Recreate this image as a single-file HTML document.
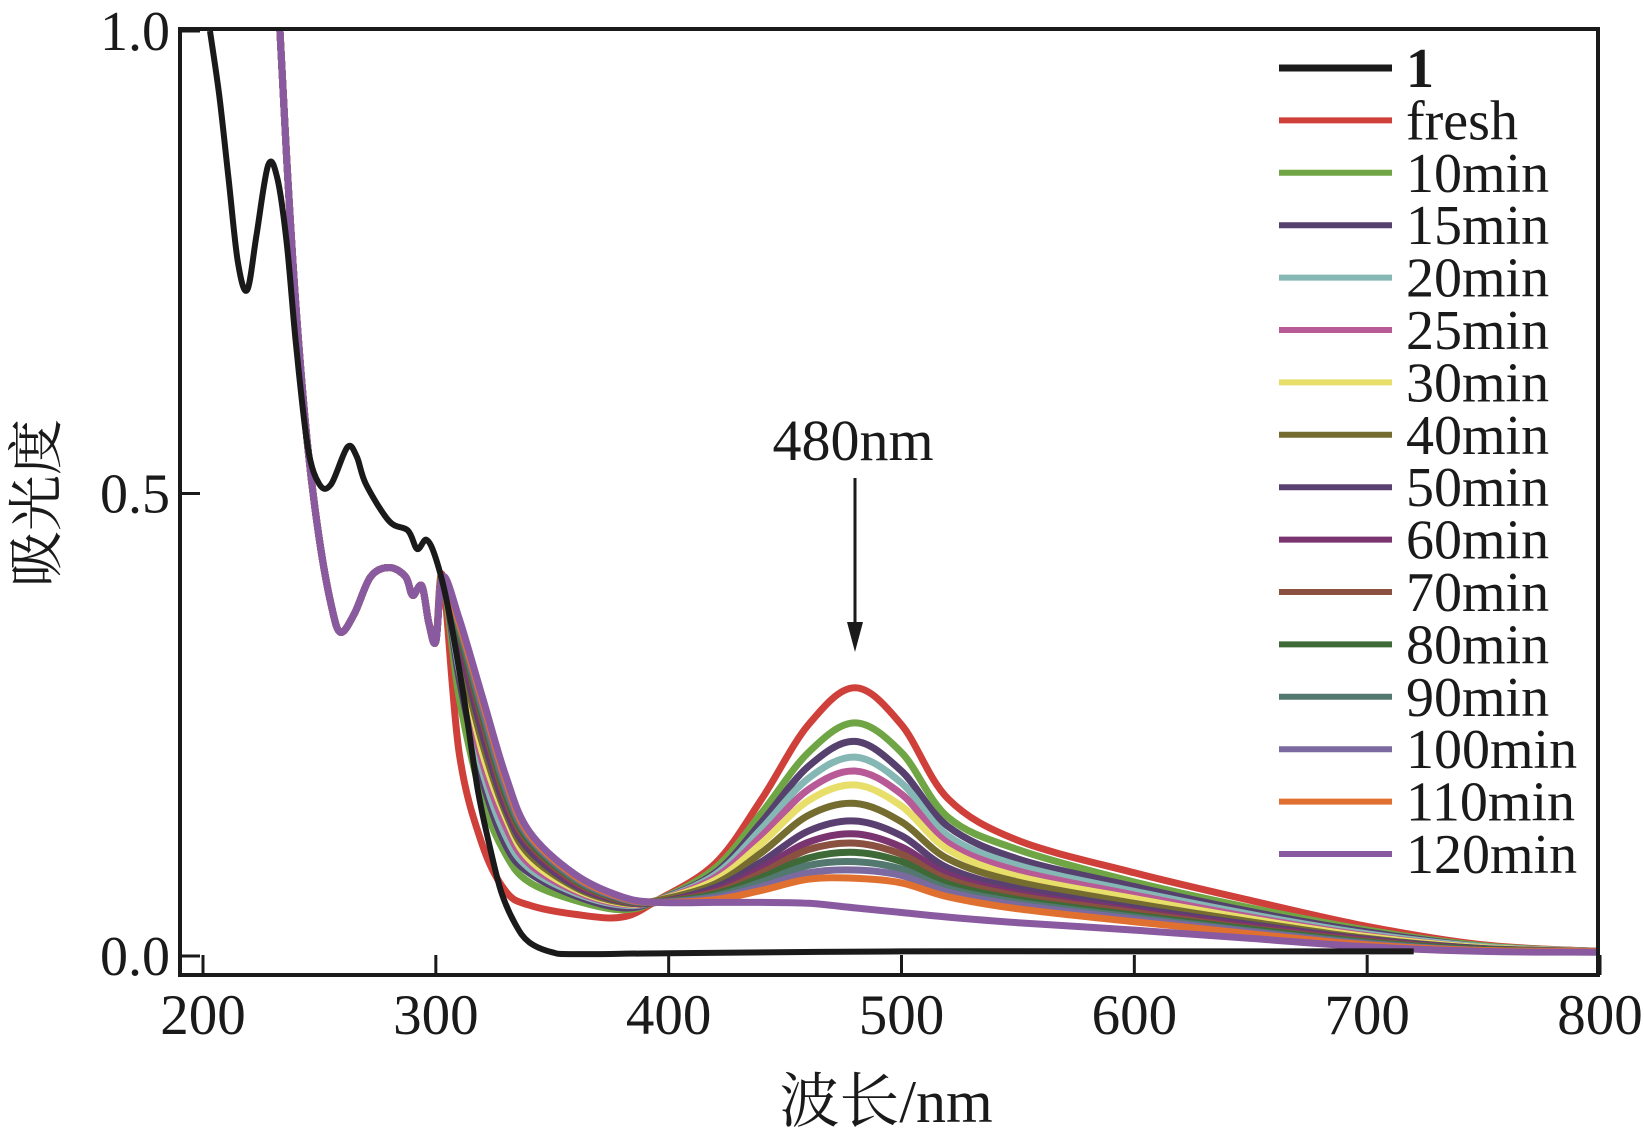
<!DOCTYPE html>
<html><head><meta charset="utf-8"><style>
body{margin:0;background:#fff}
svg text{font-family:"Liberation Serif","Noto Serif CJK SC",serif;fill:#1a1a1a}
</style></head><body>
<svg id="chart" width="1644" height="1140" viewBox="0 0 1644 1140" xmlns="http://www.w3.org/2000/svg">
<defs><clipPath id="clip"><rect x="182" y="31" width="1414" height="942"/></clipPath></defs>
<g id="series" clip-path="url(#clip)"></g>
<rect x="180" y="29" width="1418" height="946" fill="none" stroke="#1a1a1a" stroke-width="4"/>
<g id="axes"></g>
<g id="legend"></g>
<g>
<text x="853" y="460" font-size="58" text-anchor="middle">480nm</text>
<line x1="855" y1="478" x2="855" y2="630" stroke="#1a1a1a" stroke-width="3"/>
<polygon points="847,622 863,622 855,652" fill="#1a1a1a"/>
</g>
<text x="886" y="1122" font-size="60" text-anchor="middle">波长/nm</text>
<text transform="translate(56,503) rotate(-90)" font-size="56" text-anchor="middle">吸光度</text>
</svg>
<script>
const xTicks=[200,300,400,500,600,700,800];
const yTicks=[0.0,0.5,1.0];
const yTickLabels=["0.0","0.5","1.0"];
const seriesNames=["fresh","10min","15min","20min","25min","30min","40min","50min","60min","70min","80min","90min","100min","110min","120min"];
const seriesColors=["#d0403a","#6fa544","#55406e","#85b8b5","#b75a95","#e8df6a","#756c30","#5a4070","#7a3470","#8a5040","#3e6a38","#527870","#7a6aa0","#e07030","#8a5aa0"];
const refWl=[203,207,211,215,219,223,228,232,236,240,245,250,255,262,266,270,280,288,292,296,300,305,312,318,323,328,334,340,350,360,400,500,600,720];
const refAbs=[1.0,0.93,0.84,0.75,0.72,0.78,0.855,0.84,0.77,0.66,0.55,0.51,0.51,0.55,0.54,0.51,0.47,0.46,0.44,0.45,0.43,0.38,0.28,0.18,0.12,0.07,0.035,0.015,0.004,0.002,0.003,0.005,0.005,0.005];
const uvWl=[228,232,236,240,245,250,255,259,265,272,280,287,290,294,297,300,303];
const uvCommon=[1.3,1.05,0.86,0.7,0.55,0.45,0.38,0.35,0.37,0.41,0.42,0.41,0.39,0.4,0.36,0.34,0.41];
const midWl=[310,320,330,340,360,380];
const midAbs=[
[.22,.12,.07,.055,.045,.042],[.28,.17,.11,.08,.06,.05],[.30,.19,.12,.09,.065,.052],[.31,.20,.13,.095,.068,.055],
[.32,.21,.14,.10,.07,.056],[.33,.22,.15,.105,.072,.057],[.33,.23,.155,.11,.074,.058],[.34,.24,.16,.115,.076,.059],
[.34,.25,.165,.12,.078,.06],[.35,.255,.17,.122,.08,.06],[.35,.26,.175,.125,.082,.061],[.355,.265,.18,.128,.083,.062],
[.36,.27,.185,.13,.085,.062],[.36,.275,.19,.132,.086,.063],[.365,.28,.195,.135,.088,.064]];
const visWl=[395,420,440,460,480,500,520,550,600,650,700,750,800];
const visAbs=[
[.06,.10,.17,.25,.29,.25,.17,.125,.09,.06,.032,.012,.005],
[.06,.095,.155,.22,.252,.22,.15,.115,.08,.052,.028,.011,.005],
[.06,.09,.145,.205,.232,.2,.14,.105,.075,.048,.026,.01,.005],
[.06,.088,.138,.192,.215,.187,.13,.098,.07,.045,.024,.01,.005],
[.06,.085,.13,.18,.2,.175,.122,.092,.066,.042,.022,.009,.005],
[.06,.082,.122,.168,.185,.162,.115,.086,.062,.04,.021,.009,.005],
[.06,.078,.112,.152,.165,.145,.105,.08,.057,.037,.019,.008,.005],
[.058,.074,.102,.135,.146,.13,.095,.073,.052,.034,.018,.008,.005],
[.058,.071,.095,.123,.132,.118,.088,.068,.049,.032,.017,.007,.005],
[.058,.069,.09,.115,.122,.11,.083,.065,.047,.03,.016,.007,.005],
[.058,.067,.085,.106,.112,.102,.078,.061,.044,.029,.015,.007,.005],
[.058,.065,.08,.098,.102,.094,.073,.058,.042,.027,.014,.006,.005],
[.058,.063,.075,.09,.093,.087,.069,.055,.04,.026,.013,.006,.005],
[.058,.061,.071,.083,.084,.079,.064,.051,.037,.024,.012,.006,.005],
[.058,.058,.058,.057,.052,.047,.042,.036,.028,.019,.01,.005,.004]];

const NS="http://www.w3.org/2000/svg";
function xs(w){return 203+(w-200)*(1600-203)/600;}
function ys(a){return 956-a*(956-31);}
function smooth(pts){
  let d="M"+pts[0][0].toFixed(1)+","+pts[0][1].toFixed(1);
  for(let i=0;i<pts.length-1;i++){
    const p0=pts[Math.max(0,i-1)],p1=pts[i],p2=pts[i+1],p3=pts[Math.min(pts.length-1,i+2)];
    const c1=[p1[0]+(p2[0]-p0[0])/6,p1[1]+(p2[1]-p0[1])/6];
    const c2=[p2[0]-(p3[0]-p1[0])/6,p2[1]-(p3[1]-p1[1])/6];
    d+="C"+c1[0].toFixed(1)+","+c1[1].toFixed(1)+" "+c2[0].toFixed(1)+","+c2[1].toFixed(1)+" "+p2[0].toFixed(1)+","+p2[1].toFixed(1);
  }
  return d;
}
const sg=document.getElementById("series");
for(let k=0;k<seriesNames.length;k++){
  const pts=[];
  uvWl.forEach((w,i)=>pts.push([xs(w),ys(uvCommon[i])]));
  midWl.forEach((w,i)=>pts.push([xs(w),ys(midAbs[k][i])]));
  visWl.forEach((w,i)=>pts.push([xs(w),ys(visAbs[k][i])]));
  const p=document.createElementNS(NS,"path");
  p.setAttribute("d",smooth(pts));
  p.setAttribute("fill","none");
  p.setAttribute("stroke",seriesColors[k]);
  p.setAttribute("stroke-width","7");
  
  
  sg.appendChild(p);
}
{
  const pts=refWl.map((w,i)=>[xs(w),ys(refAbs[i])]);
  const p=document.createElementNS(NS,"path");
  p.setAttribute("d",smooth(pts));
  p.setAttribute("fill","none");
  p.setAttribute("stroke","#1a1a1a");
  p.setAttribute("stroke-width","6");
  
  
  sg.appendChild(p);
}
const ag=document.getElementById("axes");
xTicks.forEach(t=>{
  const l=document.createElementNS(NS,"line");
  l.setAttribute("x1",xs(t));l.setAttribute("x2",xs(t));
  l.setAttribute("y1",975);l.setAttribute("y2",955);
  l.setAttribute("stroke","#1a1a1a");l.setAttribute("stroke-width","3");
  
  
  ag.appendChild(l);
  const tx=document.createElementNS(NS,"text");
  tx.setAttribute("x",xs(t));tx.setAttribute("y",1034);
  tx.setAttribute("font-size","57");tx.setAttribute("text-anchor","middle");
  tx.textContent=String(t);
  
  
  ag.appendChild(tx);
});
yTicks.forEach((t,i)=>{
  const l=document.createElementNS(NS,"line");
  l.setAttribute("x1",180);l.setAttribute("x2",200);
  l.setAttribute("y1",ys(t));l.setAttribute("y2",ys(t));
  l.setAttribute("stroke","#1a1a1a");l.setAttribute("stroke-width","3");
  
  
  ag.appendChild(l);
  const tx=document.createElementNS(NS,"text");
  tx.setAttribute("x",170);tx.setAttribute("y",ys(t)+19);
  tx.setAttribute("font-size","56");tx.setAttribute("text-anchor","end");
  tx.textContent=yTickLabels[i];
  
  
  ag.appendChild(tx);
});
const lg=document.getElementById("legend");
const legNames=["1"].concat(seriesNames), legColors=["#1a1a1a"].concat(seriesColors);
legNames.forEach((n,i)=>{
  const y=68+i*52.4;
  const l=document.createElementNS(NS,"line");
  l.setAttribute("x1",1279);l.setAttribute("x2",1392);
  l.setAttribute("y1",y);l.setAttribute("y2",y);
  l.setAttribute("stroke",legColors[i]);l.setAttribute("stroke-width",i==0?7:6);
  
  
  lg.appendChild(l);
  const tx=document.createElementNS(NS,"text");
  tx.setAttribute("x",1406);tx.setAttribute("y",y+19);
  tx.setAttribute("font-size","56");
  if(i==0)tx.setAttribute("font-weight","bold");
  tx.textContent=n;
  
  
  lg.appendChild(tx);
});
</script>
</body></html>
